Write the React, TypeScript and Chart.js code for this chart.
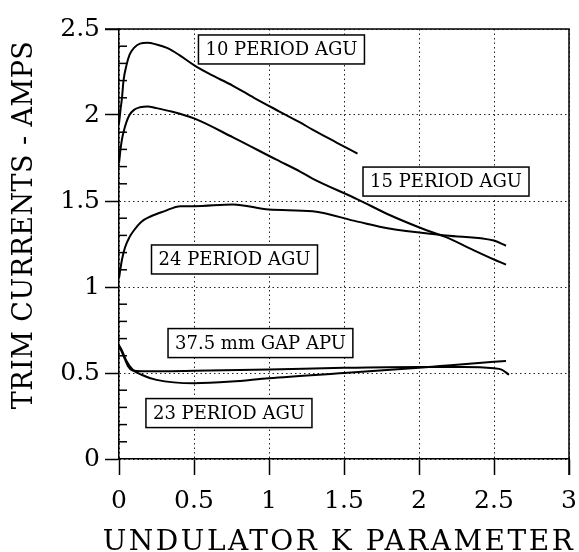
import React, { useEffect, useRef } from "react";
import { Chart, registerables } from "chart.js";

Chart.register(...registerables);

// ---- data ----
const k10 = [0, 0.01, 0.02, 0.03, 0.05, 0.07, 0.1, 0.14, 0.19, 0.25, 0.32, 0.4, 0.5, 0.6, 0.76, 0.9, 1.07, 1.21, 1.29, 1.45, 1.59];
const amps10 = [1.95, 2.03, 2.1, 2.2, 2.29, 2.35, 2.39, 2.415, 2.42, 2.41, 2.39, 2.35, 2.29, 2.24, 2.17, 2.1, 2.02, 1.955, 1.915, 1.84, 1.775];

const k15 = [0, 0.005, 0.01, 0.02, 0.03, 0.05, 0.07, 0.1, 0.14, 0.19, 0.25, 0.35, 0.5, 0.76, 1.05, 1.21, 1.29, 1.59, 1.8, 2.05, 2.18, 2.35, 2.5, 2.58];
const amps15 = [1.72, 1.76, 1.8, 1.86, 1.9, 1.96, 2.0, 2.03, 2.045, 2.05, 2.04, 2.02, 1.98, 1.87, 1.74, 1.67, 1.63, 1.51, 1.42, 1.33, 1.29, 1.22, 1.16, 1.13];

const k24 = [0, 0.005, 0.02, 0.04, 0.07, 0.1, 0.15, 0.21, 0.3, 0.41, 0.5, 0.76, 1.0, 1.29, 1.59, 1.8, 2.18, 2.5, 2.58];
const amps24 = [1.05, 1.08, 1.16, 1.23, 1.29, 1.33, 1.38, 1.41, 1.44, 1.47, 1.47, 1.48, 1.45, 1.44, 1.38, 1.34, 1.3, 1.27, 1.24];

const kApu = [0, 0.03, 0.06, 0.09, 0.15, 0.5, 1.0, 1.5, 2.0, 2.3, 2.5, 2.55, 2.6];
const ampsApu = [0.66, 0.6, 0.54, 0.515, 0.51, 0.513, 0.52, 0.53, 0.535, 0.535, 0.527, 0.52, 0.49];

const k23 = [0, 0.02, 0.05, 0.09, 0.15, 0.25, 0.5, 0.75, 1.0, 1.5, 2.0, 2.14, 2.5, 2.58];
const amps23 = [0.66, 0.63, 0.57, 0.52, 0.49, 0.46, 0.44, 0.45, 0.47, 0.5, 0.53, 0.54, 0.565, 0.57];

const xTickMin = 0;
const xTickMax = 3;
const xStep = 0.5;
const yTickMin = 0;
const yTickMax = 2.5;
const yStep = 0.5;

const labelTexts = ["10 PERIOD AGU", "15 PERIOD AGU", "24 PERIOD AGU", "37.5 mm GAP APU", "23 PERIOD AGU"];
const labelK = [1.083, 2.18, 0.77, 0.943, 0.733];
const labelAmps = [2.381, 1.613, 1.16, 0.674, 0.267];

const xTitle = "UNDULATOR K PARAMETER";
const yTitle = "TRIM CURRENTS - AMPS";

const SERIF = "'DejaVu Serif', 'Liberation Serif', serif";

function pts(xs: number[], ys: number[]) {
  return xs.map((x, i) => ({ x, y: ys[i] }));
}

function fitText(ctx: CanvasRenderingContext2D, text: string, target: number) {
  (ctx as any).letterSpacing = "0px";
  const w = ctx.measureText(text).width;
  const sp = (target - w) / (text.length - 1);
  (ctx as any).letterSpacing = sp + "px";
  return sp;
}

const fmt = (v: any) => String(Number(v));

const decorPlugin = {
  id: "decor",
  afterDatasetsDraw(chart: any) {
    const ctx: CanvasRenderingContext2D = chart.ctx;
    const xs = chart.scales.x;
    const ys = chart.scales.y;
    const a = chart.chartArea;
    ctx.save();
    ctx.strokeStyle = "#000";
    ctx.lineWidth = 1.5;
    ctx.beginPath();
    ctx.moveTo(a.left - 14, a.top);
    ctx.lineTo(a.right, a.top);
    ctx.lineTo(a.right, a.bottom + 16);
    ctx.stroke();
    for (let i = 1; i < 25; i++) {
      if (i % 5 === 0) continue;
      const py = ys.getPixelForValue(i / 10);
      ctx.beginPath();
      ctx.moveTo(a.left, py);
      ctx.lineTo(a.left + 8, py);
      ctx.stroke();
    }
    ctx.font = "18px " + SERIF;
    ctx.textAlign = "center";
    ctx.textBaseline = "middle";
    labelTexts.forEach((t, i) => {
      const cx = xs.getPixelForValue(labelK[i]);
      const cy = ys.getPixelForValue(labelAmps[i]);
      const w = ctx.measureText(t).width + 14;
      const h = 29;
      ctx.fillStyle = "#fff";
      ctx.fillRect(cx - w / 2, cy - h / 2, w, h);
      ctx.strokeStyle = "#000";
      ctx.lineWidth = 1.5;
      ctx.strokeRect(cx - w / 2, cy - h / 2, w, h);
      ctx.fillStyle = "#000";
      ctx.fillText(t, cx, cy + 1);
    });
    ctx.restore();
  },
  afterDraw(chart: any) {
    const ctx: CanvasRenderingContext2D = chart.ctx;
    ctx.save();
    ctx.fillStyle = "#000";
    ctx.textAlign = "center";
    ctx.textBaseline = "alphabetic";
    ctx.font = "28px " + SERIF;
    fitText(ctx, xTitle, 470);
    ctx.fillText(xTitle, 339, 550);
    ctx.font = "27px " + SERIF;
    fitText(ctx, yTitle, 368);
    ctx.translate(32, 225);
    ctx.rotate(-Math.PI / 2);
    ctx.fillText(yTitle, 0, 0);
    ctx.restore();
  },
};

export default function App() {
  const ref = useRef<HTMLCanvasElement>(null);
  useEffect(() => {
    document.body.style.margin = "0";
    const line = (data: any) => ({
      data,
      borderColor: "#000",
      borderWidth: 2,
      pointRadius: 0,
      fill: false,
      cubicInterpolationMode: "monotone" as const,
    });
    const chart = new Chart(ref.current!, {
      type: "line",
      data: {
        datasets: [
          { label: labelTexts[0], ...line(pts(k10, amps10)) },
          { label: labelTexts[1], ...line(pts(k15, amps15)) },
          { label: labelTexts[2], ...line(pts(k24, amps24)) },
          { label: labelTexts[3], ...line(pts(kApu, ampsApu)) },
          { label: labelTexts[4], ...line(pts(k23, amps23)) },
        ],
      },
      options: {
        animation: false,
        responsive: false,
        devicePixelRatio: 1,
        layout: { padding: { top: 29, right: 10, left: 0, bottom: 0 } },
        plugins: { legend: { display: false }, tooltip: { enabled: false } },
        scales: {
          x: {
            type: "linear",
            min: xTickMin,
            max: xTickMax,
            ticks: { stepSize: xStep, color: "#000", font: { family: SERIF, size: 25 }, padding: 11, maxRotation: 0, callback: fmt },
            grid: { color: "#222", lineWidth: 1, tickLength: 16, tickWidth: 1.5, tickColor: "#000" },
            border: { display: true, color: "#000", width: 1.5, dash: [1.5, 3] },
            afterFit: (s: any) => { s.height = 93; s.paddingLeft = 0; s.paddingRight = 0; },
          },
          y: {
            type: "linear",
            min: yTickMin,
            max: yTickMax,
            ticks: { stepSize: yStep, color: "#000", font: { family: SERIF, size: 25 }, padding: 5, callback: fmt },
            grid: { color: "#222", lineWidth: 1, tickLength: 14, tickWidth: 1.5, tickColor: "#000" },
            border: { display: true, color: "#000", width: 1.5, dash: [1.5, 3] },
            afterFit: (s: any) => { s.width = 119; s.paddingTop = 0; s.paddingBottom = 0; },
          },
        },
      },
      plugins: [decorPlugin],
    });
    return () => chart.destroy();
  }, []);
  return (
    <div style={{ width: 579, height: 552 }}>
      <canvas ref={ref} width={579} height={552} />
    </div>
  );
}
